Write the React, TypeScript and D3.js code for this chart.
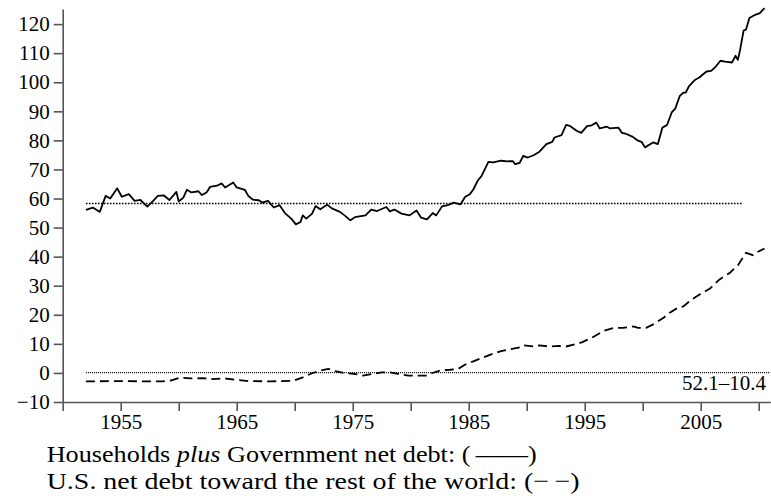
import React, { useEffect, useRef } from 'react'
import * as d3 from 'd3'

// Households plus Government net debt (solid)
const debtYears = [
  1952.0, 1952.6, 1953.2, 1953.7, 1954.1, 1954.7, 1955.1, 1955.7, 1956.2, 1956.7, 1957.3, 1957.8,
  1958.2, 1958.7, 1959.2, 1959.8, 1960.0, 1960.4, 1960.7, 1961.1, 1961.7, 1962.0, 1962.4, 1962.7,
  1963.3, 1963.7, 1964.0, 1964.7, 1965.0, 1965.7, 1966.0, 1966.4, 1966.9, 1967.2, 1967.7, 1968.2,
  1968.7, 1969.2, 1969.7, 1970.1, 1970.5, 1970.7, 1971.0, 1971.5, 1971.8, 1972.2, 1972.8, 1973.2,
  1973.9, 1974.3, 1974.8, 1975.2, 1976.1, 1976.6, 1977.1, 1977.9, 1978.2, 1978.6, 1979.2, 1979.9,
  1980.5, 1980.9, 1981.4, 1981.9, 1982.2, 1982.7, 1983.2, 1983.7, 1984.3, 1984.7, 1985.1, 1985.4,
  1985.8, 1986.1, 1986.7, 1987.1, 1987.8, 1988.3, 1988.8, 1989.0, 1989.4, 1989.7, 1990.1, 1990.6,
  1991.1, 1991.7, 1992.2, 1992.4, 1993.0, 1993.4, 1993.7, 1994.3, 1994.7, 1995.2, 1995.6, 1996.0,
  1996.3, 1996.9, 1997.2, 1997.9, 1998.2, 1998.6, 1999.1, 1999.6, 1999.9, 2000.2, 2000.6, 2000.9,
  2001.3, 2001.7, 2002.1, 2002.5, 2002.8, 2003.2, 2003.5, 2003.7, 2004.0, 2004.5, 2004.9, 2005.5,
  2005.9, 2006.3, 2006.7, 2007.1, 2007.7, 2008.0, 2008.2, 2008.4, 2008.7, 2008.9, 2009.2, 2009.7,
  2010.1, 2010.5
]
const debtValues = [
  56.1, 56.9, 55.4, 60.9, 60.0, 63.5, 60.6, 61.5, 59.2, 59.5, 57.2, 59.2,
  60.9, 61.1, 59.5, 62.3, 59.0, 60.3, 63.0, 62.1, 62.5, 61.2, 62.1, 64.0,
  64.4, 65.2, 63.8, 65.5, 63.8, 63.0, 60.9, 59.6, 59.4, 58.6, 59.2, 56.9,
  57.7, 54.8, 53.1, 51.1, 51.9, 54.2, 53.1, 54.8, 57.4, 56.3, 57.9, 56.6,
  55.4, 54.2, 52.5, 53.6, 54.2, 56.2, 55.7, 57.1, 55.6, 56.2, 54.8, 54.2,
  55.9, 53.4, 52.8, 55.0, 54.2, 57.3, 57.7, 58.6, 58.0, 60.6, 61.5, 63.1,
  66.3, 67.7, 72.6, 72.4, 73.0, 72.8, 72.9, 71.8, 72.3, 74.7, 74.1, 74.9,
  76.1, 78.7, 79.5, 81.0, 81.8, 85.3, 85.0, 83.3, 82.6, 84.9, 85.2, 86.1,
  84.1, 84.7, 84.1, 84.4, 82.6, 82.2, 81.3, 79.9, 79.5, 77.6, 78.6, 79.3,
  78.7, 84.4, 85.3, 89.6, 90.9, 95.3, 96.4, 96.4, 98.7, 100.8, 101.7, 103.7,
  103.9, 105.4, 107.4, 107.1, 106.8, 109.1, 107.7, 111.2, 117.8, 118.1, 122.1, 123.2,
  123.8, 125.5
]

// U.S. net debt toward the rest of the world (dashed)
const foreignYears = [
  1952.0, 1955.0, 1957.0, 1958.6, 1959.3, 1960.1, 1961.0, 1962.0, 1963.0, 1964.0, 1965.0, 1966.0,
  1968.0, 1969.9, 1970.7, 1971.5, 1972.2, 1972.9, 1973.5, 1974.3, 1975.1, 1975.9, 1976.8, 1977.5,
  1978.2, 1978.9, 1979.8, 1980.7, 1981.4, 1981.8, 1982.5, 1983.4, 1984.1, 1984.7, 1985.4, 1986.3,
  1987.1, 1987.8, 1988.6, 1989.3, 1989.7, 1990.6, 1991.1, 1991.9, 1992.8, 1993.4, 1994.3, 1994.8,
  1995.7, 1996.6, 1997.5, 1998.3, 1999.2, 1999.6, 2000.3, 2000.9, 2001.8, 2002.3, 2002.9, 2003.5,
  2004.2, 2004.9, 2005.8, 2006.6, 2007.5, 2008.2, 2008.9, 2009.3, 2009.5, 2009.9, 2010.5
]
const foreignValues = [
  -2.9, -2.8, -2.9, -2.9, -2.6, -1.6, -1.9, -1.8, -2.1, -1.9, -2.4, -2.8,
  -2.9, -2.7, -1.5, -0.1, 0.8, 1.4, 0.6, -0.1, -0.3, -0.9, -0.3, 0.2,
  0.2, -0.3, -0.9, -0.9, -0.9, -0.1, 0.8, 1.1, 1.4, 2.9, 4.0, 5.4,
  6.6, 7.5, 8.2, 8.7, 9.5, 9.1, 9.5, 9.1, 9.3, 9.1, 10.0, 10.6,
  12.3, 14.4, 15.5, 15.5, 16.0, 15.5, 15.5, 16.7, 19.0, 20.6, 22.1, 22.9,
  25.2, 27.0, 29.0, 32.1, 34.4, 37.0, 41.3, 40.8, 40.5, 41.6, 42.8
]

// dotted average levels
const levelValues = [58.3, 0.1]
const levelStart = [1952.0, 1952.0]
const levelEnd = [2008.6, 2011.0]

const yTicks = [-10, 0, 10, 20, 30, 40, 50, 60, 70, 80, 90, 100, 110, 120]
const xTicks = [1950, 1955, 1960, 1965, 1970, 1975, 1980, 1985, 1990, 1995, 2000, 2005, 2010]
const xLabels = [1955, 1965, 1975, 1985, 1995, 2005]
const cornerLabel = '52.1\u201310.4'

const useD3 = (renderChartFn: (svg: any) => void, dependencies: React.DependencyList) => {
  const ref = useRef<SVGSVGElement>(null)
  useEffect(() => {
    renderChartFn(d3.select(ref.current))
  }, dependencies)
  return ref
}

const serif = '"Liberation Serif", "Times New Roman", serif'

const DebtChart = () => {
  const ref = useD3(svg => {
    svg.selectAll('*').remove()

    const xScale = d3.scaleLinear().domain([1950, 2011]).range([62.7, 770.3])
    const yScale = d3.scaleLinear().domain([-10, 125.2]).range([402, 9])

    // dotted levels
    svg
      .selectAll('.level')
      .data(levelValues)
      .enter()
      .append('line')
      .attr('class', 'level')
      .attr('x1', (_d, i) => xScale(levelStart[i]))
      .attr('x2', (_d, i) => xScale(levelEnd[i]))
      .attr('y1', d => yScale(d))
      .attr('y2', d => yScale(d))
      .attr('stroke', '#000')
      .attr('stroke-width', (_d, i) => (i === 0 ? 1.6 : 1.1))
      .attr('stroke-dasharray', (_d, i) => (i === 0 ? '1.6 1.4' : '1 1'))

    const line = d3
      .line<[number, number]>()
      .x(d => xScale(d[0]))
      .y(d => yScale(d[1]))

    const debt = debtYears.map((yr, i) => [yr, debtValues[i]] as [number, number])
    const foreign = foreignYears.map((yr, i) => [yr, foreignValues[i]] as [number, number])

    svg
      .append('path')
      .attr('d', line(debt))
      .attr('fill', 'none')
      .attr('stroke', '#000')
      .attr('stroke-width', 1.8)
      .attr('stroke-linejoin', 'round')

    svg
      .append('path')
      .attr('d', line(foreign))
      .attr('fill', 'none')
      .attr('stroke', '#000')
      .attr('stroke-width', 1.8)
      .attr('stroke-dasharray', '9 5')

    // y axis
    const yAxis = svg
      .append('g')
      .attr('transform', `translate(${xScale(1950)},0)`)
      .call(d3.axisLeft(yScale).tickValues(yTicks).tickSize(9).tickPadding(4).tickSizeOuter(0))
    yAxis.attr('font-family', serif).attr('font-size', 21)
    yAxis.selectAll('line, path').attr('stroke', '#555').attr('stroke-width', 1.6)
    yAxis.selectAll('text').attr('fill', '#000')

    // x axis
    const xAxis = svg
      .append('g')
      .attr('transform', `translate(0,${yScale(-10)})`)
      .call(
        d3
          .axisBottom(xScale)
          .tickValues(xTicks)
          .tickSize(9)
          .tickPadding(3)
          .tickSizeOuter(0)
          .tickFormat(d => (xLabels.includes(+d) ? String(d) : ''))
      )
    xAxis.attr('font-family', serif).attr('font-size', 21)
    xAxis.selectAll('line, path').attr('stroke', '#555').attr('stroke-width', 1.6)
    xAxis.selectAll('text').attr('fill', '#000')

    svg
      .append('text')
      .attr('x', 766)
      .attr('y', 390)
      .attr('text-anchor', 'end')
      .attr('font-family', serif)
      .attr('font-size', 21)
      .text(cornerLabel)

    // legend
    const l1 = svg
      .append('text')
      .attr('x', 46.7)
      .attr('y', 461.7)
      .attr('font-family', serif)
      .attr('font-size', 24)
      .attr('textLength', 490)
      .attr('lengthAdjust', 'spacingAndGlyphs')
    l1.append('tspan').text('Households ')
    l1.append('tspan').attr('font-style', 'italic').text('plus')
    l1.append('tspan').text(' Government net debt: (\u2009\u2014\u2014)')

    svg
      .append('text')
      .attr('x', 46.7)
      .attr('y', 489.3)
      .attr('font-family', serif)
      .attr('font-size', 24)
      .attr('textLength', 533)
      .attr('lengthAdjust', 'spacingAndGlyphs')
      .text('U.S. net debt toward the rest of the world: (\u2212\u2009\u2212)')
  }, [])

  return <svg ref={ref} width={771} height={496} style={{ position: 'absolute', left: 0, top: 0 }} />
}

const App = () => {
  return (
    <div>
      <DebtChart />
    </div>
  )
}

export default App
